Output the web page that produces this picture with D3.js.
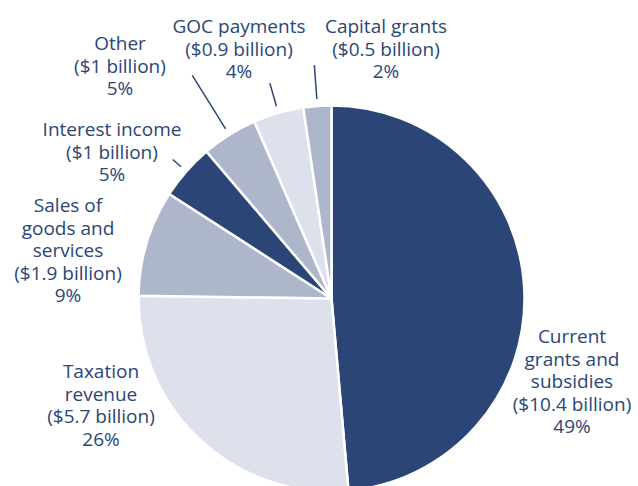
<!DOCTYPE html>
<html><head><meta charset="utf-8">
<script src="https://cdn.jsdelivr.net/npm/d3@7"></script>
<style>html,body{margin:0;padding:0;background:#fff;}</style>
</head><body>
<script>
const categories = ["Current grants and subsidies","Taxation revenue","Sales of goods and services","Interest income","Other","GOC payments","Capital grants"];
const valuesBillion = [10.4, 5.7, 1.9, 1, 1, 0.9, 0.5];
const valueLabels = ["$10.4 billion","$5.7 billion","$1.9 billion","$1 billion","$1 billion","$0.9 billion","$0.5 billion"];
const percentLabels = ["49%","26%","9%","5%","5%","4%","2%"];
const labelLines = [["Current","grants and","subsidies"],["Taxation","revenue"],["Sales of","goods and","services"],["Interest income"],["Other"],["GOC payments"],["Capital grants"]];

// layout (positions/styles)
const W = 638, H = 486;
const cx = 331.5, cy = 298.5, R = 193;
const colors = ["#2c4577","#dde1eb","#adb6ca","#2c4577","#adb6ca","#dde1eb","#adb6ca"];
const textColor = "#2c4577";
const labelPos = [[572,343],[101,378],[68,212],[112,136],[120,50],[239,33],[386,33]];
const leaderOuter = [null,null,null,211,263,224,234];
const lineH = 22.5;
const fontSize = 19;

const svg = d3.select("body").append("svg").attr("width",W).attr("height",H)
  .style("font-family","'Open Sans', sans-serif");

const data = categories.map((c,i)=>({c, v:valuesBillion[i], i}));
const pie = d3.pie().value(d=>d.v).sort(null);
const arcs = pie(data);
const arc = d3.arc().innerRadius(0).outerRadius(R);

const g = svg.append("g").attr("transform",`translate(${cx},${cy})`);
g.selectAll("path").data(arcs).join("path")
  .attr("d",arc).attr("fill",d=>colors[d.index])
  .attr("stroke","#fff").attr("stroke-width",2.5).attr("stroke-linejoin","round");

// leader lines
arcs.forEach(a=>{
  const ro = leaderOuter[a.index];
  if(!ro) return;
  const m = (a.startAngle+a.endAngle)/2;
  const ri = R+7;
  g.append("line")
    .attr("x1",Math.sin(m)*ri).attr("y1",-Math.cos(m)*ri)
    .attr("x2",Math.sin(m)*ro).attr("y2",-Math.cos(m)*ro)
    .attr("stroke",textColor).attr("stroke-width",1.5);
});

// labels
data.forEach((d,i)=>{
  const lines = labelLines[i].concat(["(" + valueLabels[i] + ")", percentLabels[i]]);
  const t = svg.append("text").attr("text-anchor","middle")
    .attr("fill",textColor).attr("font-size",fontSize);
  lines.forEach((l,k)=>{
    t.append("tspan").attr("x",labelPos[i][0]).attr("y",labelPos[i][1]+k*lineH).text(l);
  });
});
</script>
</body></html>
